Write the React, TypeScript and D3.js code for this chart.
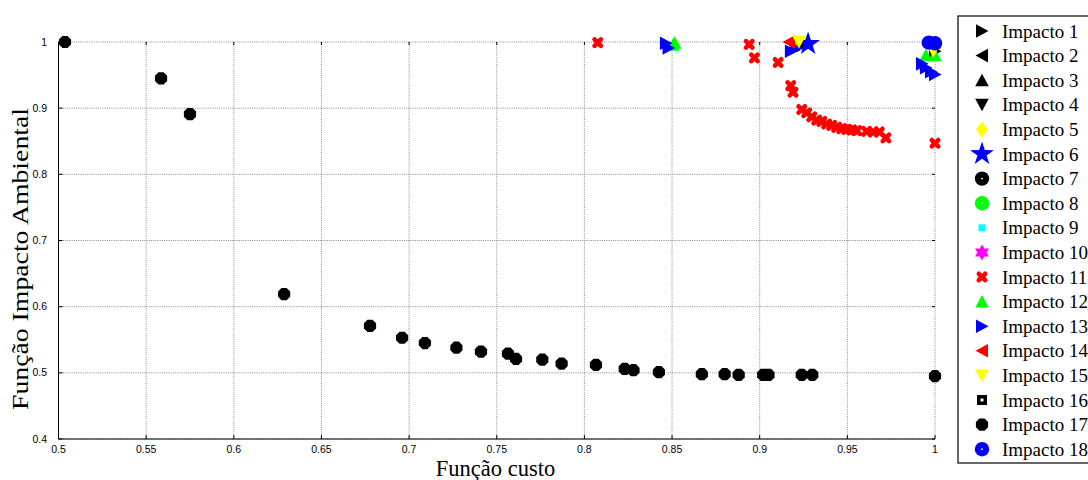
import React from "react";
import * as d3 from "d3";

// Axis ticks
const xTicks = [0.5, 0.55, 0.6, 0.65, 0.7, 0.75, 0.8, 0.85, 0.9, 0.95, 1];
const yTicks = [0.4, 0.5, 0.6, 0.7, 0.8, 0.9, 1];
const xTickLabels = ["0.5", "0.55", "0.6", "0.65", "0.7", "0.75", "0.8", "0.85", "0.9", "0.95", "1"];
const yTickLabels = ["0.4", "0.5", "0.6", "0.7", "0.8", "0.9", "1"];

// Series: [custo, impacto ambiental]
const impacto1: [number, number][] = [[0.9247, 0.995], [1.0, 0.986]];
const impacto2: [number, number][] = [];
const impacto3: [number, number][] = [];
const impacto4: [number, number][] = [];
const impacto5: [number, number][] = [];
const impacto6: [number, number][] = [[0.9276, 0.997]];
const impacto7: [number, number][] = [];
const impacto8: [number, number][] = [];
const impacto9: [number, number][] = [];
const impacto10: [number, number][] = [];
const impacto11: [number, number][] = [
  [0.8076, 0.999], [0.894, 0.9965], [0.897, 0.976], [0.9105, 0.969],
  [0.9177, 0.934], [0.919, 0.924], [0.924, 0.898], [0.9268, 0.893],
  [0.9297, 0.887], [0.9325, 0.882], [0.9354, 0.88], [0.9382, 0.876],
  [0.9411, 0.874], [0.9439, 0.871], [0.9468, 0.869], [0.9496, 0.868],
  [0.9525, 0.867], [0.9553, 0.866], [0.961, 0.865], [0.9648, 0.864],
  [0.9682, 0.864], [0.972, 0.855], [1.0, 0.847],
];
const impacto12: [number, number][] = [
  [0.8515, 0.999], [0.8505, 0.996], [0.9201, 0.997],
  [0.9948, 0.98], [1.0, 0.98],
];
const impacto13: [number, number][] = [
  [0.8465, 0.998], [0.848, 0.991], [0.9178, 0.986], [0.9205, 0.99],
  [0.9926, 0.967], [0.9948, 0.961], [0.9977, 0.955], [1.0, 0.951],
];
const impacto14: [number, number][] = [[0.9167, 1.0]];
const impacto15: [number, number][] = [[0.9224, 1.0], [0.999, 0.986]];
const impacto16: [number, number][] = [];
const impacto17: [number, number][] = [
  [0.5037, 1.0], [0.5585, 0.945], [0.575, 0.891], [0.6287, 0.619],
  [0.6777, 0.571], [0.696, 0.553], [0.709, 0.545], [0.727, 0.538],
  [0.741, 0.532], [0.7564, 0.529], [0.761, 0.521], [0.776, 0.52],
  [0.787, 0.514], [0.8066, 0.512], [0.823, 0.506], [0.828, 0.504],
  [0.8425, 0.501], [0.867, 0.498], [0.88, 0.498], [0.888, 0.497],
  [0.902, 0.497], [0.905, 0.497], [0.924, 0.497], [0.93, 0.497],
  [1.0, 0.495],
];
const impacto18: [number, number][] = [[0.9965, 0.999], [1.0, 0.998]];

type Kind =
  | "triR" | "triL" | "triU" | "triD" | "diamond" | "star5" | "circDot"
  | "square" | "hexagram" | "cross" | "squareDot" | "octagon";

const seriesNames = [
  "Impacto 1", "Impacto 2", "Impacto 3", "Impacto 4", "Impacto 5", "Impacto 6",
  "Impacto 7", "Impacto 8", "Impacto 9", "Impacto 10", "Impacto 11", "Impacto 12",
  "Impacto 13", "Impacto 14", "Impacto 15", "Impacto 16", "Impacto 17", "Impacto 18",
];
const seriesData = [
  impacto1, impacto2, impacto3, impacto4, impacto5, impacto6, impacto7, impacto8,
  impacto9, impacto10, impacto11, impacto12, impacto13, impacto14, impacto15,
  impacto16, impacto17, impacto18,
];
const seriesKinds: Kind[] = [
  "triR", "triL", "triU", "triD", "diamond", "star5", "circDot", "circDot",
  "square", "hexagram", "cross", "triU", "triR", "triL", "triD", "squareDot",
  "octagon", "circDot",
];
const seriesColors = [
  "#000000", "#000000", "#000000", "#000000", "#ffff00", "#0000ff", "#000000", "#00ff00",
  "#00ffff", "#ff00ff", "#ff0000", "#00ff00", "#0000ff", "#ff0000", "#ffff00",
  "#000000", "#000000", "#0000ff",
];

const W = 1088;
const H = 480;
const x = d3.scaleLinear().domain([0.5, 1]).range([58.5, 935]);
const y = d3.scaleLinear().domain([0.4, 1]).range([439, 42]);

const poly = (pts: [number, number][]) => "M" + pts.map((p) => p.join(",")).join("L") + "Z";

function starPath(n: number, ro: number, ri: number, rot: number) {
  const pts: [number, number][] = [];
  for (let i = 0; i < n * 2; i++) {
    const r = i % 2 === 0 ? ro : ri;
    const a = rot + (i * Math.PI) / n;
    pts.push([r * Math.sin(a), -r * Math.cos(a)]);
  }
  return poly(pts);
}

function Marker({ kind, color, cx, cy, dot }: { kind: Kind; color: string; cx: number; cy: number; dot?: boolean }) {
  const t = `translate(${cx},${cy})`;
  switch (kind) {
    case "triR":
      return <path transform={t} d={poly([[-6, -6.8], [6.5, 0], [-6, 6.8]])} fill={color} />;
    case "triL":
      return <path transform={t} d={poly([[6, -6.8], [-6.5, 0], [6, 6.8]])} fill={color} />;
    case "triU":
      return <path transform={t} d={poly([[0, -6.5], [6.8, 6], [-6.8, 6]])} fill={color} />;
    case "triD":
      return <path transform={t} d={poly([[0, 6.5], [6.8, -6], [-6.8, -6]])} fill={color} />;
    case "diamond":
      return <path transform={t} d={poly([[0, -8], [6, 0], [0, 8], [-6, 0]])} fill={color} />;
    case "star5":
      return <path transform={t} d={starPath(5, 12.5, 4.8, 0)} fill={color} />;
    case "hexagram":
      return <path transform={t} d={starPath(6, 8, 4.6, 0)} fill={color} />;
    case "circDot":
      return (
        <g transform={t}>
          <circle r={7.2} fill={color} />
          {dot && <circle r={0.9} fill="#ffffff" />}
        </g>
      );
    case "square":
      return <rect transform={t} x={-3.5} y={-3.5} width={7} height={7} fill={color} />;
    case "squareDot":
      return (
        <g transform={t}>
          <rect x={-5} y={-5} width={10} height={10} fill={color} />
          <rect x={-1.5} y={-1.5} width={3} height={3} fill="#ffffff" />
        </g>
      );
    case "cross":
      return (
        <path
          transform={t}
          d="M-3.2,-3.2L3.2,3.2M3.2,-3.2L-3.2,3.2"
          stroke={color}
          strokeWidth={4.6}
          strokeLinecap="round"
          fill="none"
        />
      );
    case "octagon":
      return <path transform={t} d={starPath(8, 6.6, 6.6 * Math.cos(Math.PI / 8), Math.PI / 8)} fill={color} />;
  }
  return null;
}

export default function App() {
  const legendX = 958;
  const legendY = 16;
  const rowStep = 24.6;
  const firstRow = 31;

  return (
    <svg
      width={W}
      height={H}
      viewBox={`0 0 ${W} ${H}`}
      style={{ position: "absolute", left: 0, top: 0, background: "#ffffff" }}
    >
      <rect x={0} y={0} width={W} height={H} fill="#ffffff" />

      {/* grid */}
      <g stroke="#8a8a8a" strokeWidth={1} strokeDasharray="1,1.2">
        {xTicks.map((v) => (
          <line key={"gx" + v} x1={x(v)} x2={x(v)} y1={y(0.4)} y2={y(1)} />
        ))}
        {yTicks.map((v) => (
          <line key={"gy" + v} x1={x(0.5)} x2={x(1)} y1={y(v)} y2={y(v)} />
        ))}
      </g>

      {/* tick marks */}
      <g stroke="#000000" strokeWidth={1}>
        {xTicks.map((v) => (
          <g key={"tx" + v}>
            <line x1={x(v)} x2={x(v)} y1={y(0.4)} y2={y(0.4) - 4} />
            <line x1={x(v)} x2={x(v)} y1={y(1)} y2={y(1) + 3} />
          </g>
        ))}
        {yTicks.map((v) => (
          <g key={"ty" + v}>
            <line x1={x(0.5)} x2={x(0.5) + 4} y1={y(v)} y2={y(v)} />
            <line x1={x(1)} x2={x(1) - 3} y1={y(v)} y2={y(v)} />
          </g>
        ))}
      </g>

      {/* axes */}
      <line x1={x(0.5)} x2={x(0.5)} y1={y(1)} y2={y(0.4)} stroke="#000" strokeWidth={1} />
      <line x1={x(0.5)} x2={x(1)} y1={y(0.4)} y2={y(0.4)} stroke="#000" strokeWidth={1} />

      {/* tick labels */}
      <g fontFamily="'Liberation Sans', Arial, sans-serif" fontSize={10.5} fill="#000">
        {xTicks.map((v, i) => (
          <text key={"lx" + v} x={x(v)} y={453} textAnchor="middle">
            {xTickLabels[i]}
          </text>
        ))}
        {yTicks.map((v, i) => (
          <text key={"ly" + v} x={47} y={y(v) + 3.5} textAnchor="end">
            {yTickLabels[i]}
          </text>
        ))}
      </g>

      {/* axis titles */}
      <g fontFamily="'Liberation Serif', 'Times New Roman', serif" fill="#000">
        <text x={495.5} y={476} textAnchor="middle" fontSize={22.5}>
          Função custo
        </text>
        <text
          transform="translate(28,259) rotate(-90)"
          textAnchor="middle"
          fontSize={22.5}
          textLength={302}
          lengthAdjust="spacingAndGlyphs"
        >
          Função Impacto Ambiental
        </text>
      </g>

      {/* series */}
      {seriesData.map((data, si) => (
        <g key={"s" + si}>
          {data.map((d, i) => (
            <Marker key={i} kind={seriesKinds[si]} color={seriesColors[si]} cx={x(d[0])} cy={y(d[1])} />
          ))}
        </g>
      ))}

      {/* legend */}
      <rect x={legendX} y={legendY} width={150} height={447} fill="#ffffff" stroke="#000" strokeWidth={1.2} />
      {seriesNames.map((name, i) => {
        const cy = firstRow + i * rowStep;
        return (
          <g key={"lg" + i}>
            <Marker kind={seriesKinds[i]} color={seriesColors[i]} cx={982} cy={cy} dot />
            <text
              x={1002}
              y={cy + 6.5}
              fontFamily="'Liberation Serif', 'Times New Roman', serif"
              fontSize={19}
              fill="#000"
            >
              {name}
            </text>
          </g>
        );
      })}
    </svg>
  );
}
